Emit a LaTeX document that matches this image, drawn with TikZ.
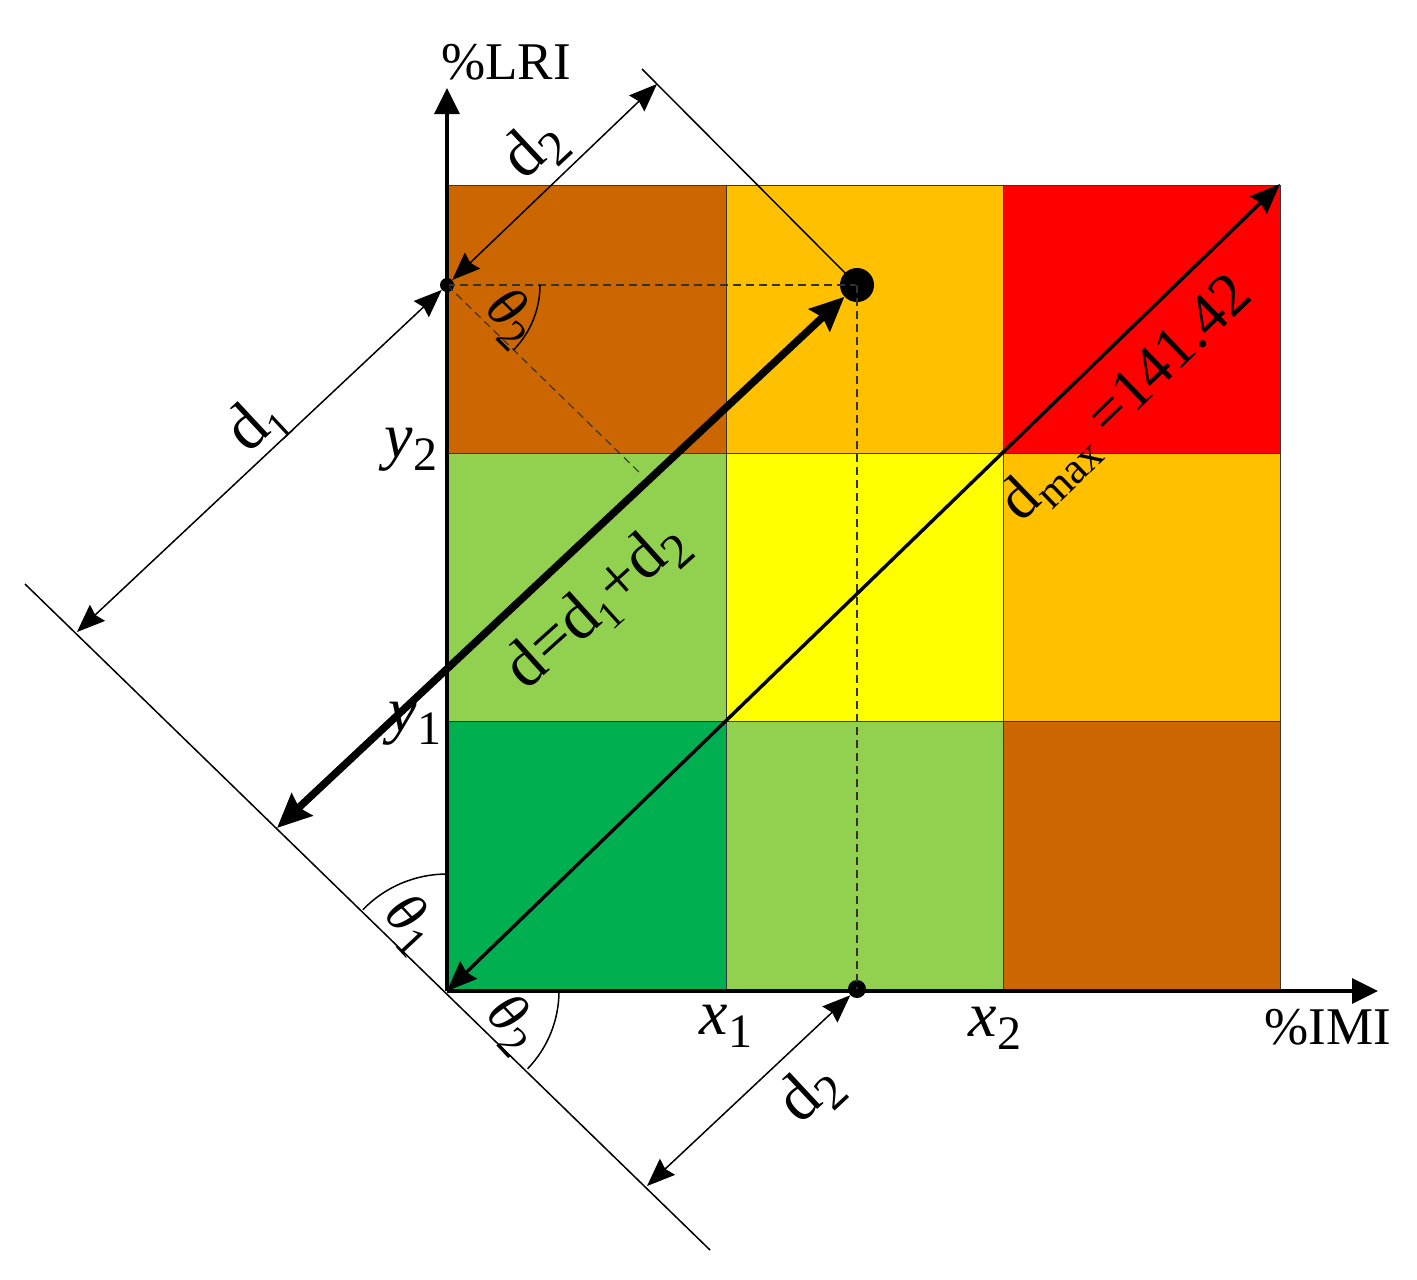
\documentclass[tikz,border=0pt]{standalone}
\usepackage{fontspec}
\setmainfont{Liberation Serif}
\usetikzlibrary{arrows.meta}
\definecolor{cbrown}{RGB}{204,102,0}
\definecolor{cgold}{RGB}{255,192,0}
\definecolor{cred}{RGB}{255,0,0}
\definecolor{clgreen}{RGB}{146,208,80}
\definecolor{cyellow}{RGB}{255,255,0}
\definecolor{cgreen}{RGB}{0,176,80}
\definecolor{cgrid}{RGB}{55,55,55}
\newcommand\lsub[2][0.75]{\raisebox{-0.2em}{\scalebox{#1}{#2}}}
\begin{document}
\begin{tikzpicture}[x=1pt,y=-1pt,
  cell/.style={draw=cgrid, line width=0.9pt},
  axisline/.style={line width=3.2pt, -{Triangle[length=26pt,width=25pt]}},
  dimline/.style={line width=1.5pt, {Stealth[length=28pt,width=22pt,inset=3pt]}-{Stealth[length=28pt,width=22pt,inset=3pt]}},
  dmaxline/.style={line width=3.4pt, {Stealth[length=30pt,width=24pt,inset=3pt]}-{Stealth[length=30pt,width=24pt,inset=3pt]}},
  thickline/.style={line width=7.5pt, {Stealth[length=34pt,width=30pt,inset=4pt]}-{Stealth[length=34pt,width=30pt,inset=4pt]}},
  guide/.style={line width=1.5pt},
  dashline/.style={line width=1.1pt, dash pattern=on 8pt off 5pt, draw=black!80},
  dotnode/.style={circle, fill=black, inner sep=0pt},
  axisfont/.style={font=\fontsize{53}{58}\selectfont, inner sep=0pt},
  varfont/.style={font=\fontsize{64}{70}\selectfont, inner sep=0pt},
  dfont/.style={font=\fontsize{66}{72}\selectfont, inner sep=0pt},
  thfont/.style={font=\fontsize{58}{62}\selectfont, inner sep=0pt}
]
\useasboundingbox (0,0) rectangle (1417,1280);

% grid cells
\path[cell, fill=cbrown]  (447,185) rectangle (726,453);
\path[cell, fill=cgold]   (726,185) rectangle (1003,453);
\path[cell, fill=cred]    (1003,185) rectangle (1280,453);
\path[cell, fill=clgreen] (447,453) rectangle (726,721);
\path[cell, fill=cyellow] (726,453) rectangle (1003,721);
\path[cell, fill=cgold]   (1003,453) rectangle (1280,721);
\path[cell, fill=cgreen]  (447,721) rectangle (726,991);
\path[cell, fill=clgreen] (726,721) rectangle (1003,991);
\path[cell, fill=cbrown]  (1003,721) rectangle (1280,991);

% key points
\coordinate (O) at (447,991);
\coordinate (Ytip) at (447,88);
\coordinate (Xtip) at (1378,991);
\coordinate (Dmax) at (1280,184);
\coordinate (B1) at (25,584);
\coordinate (B2) at (710,1250);
\coordinate (Dfoot) at (277,828);
\coordinate (D1foot) at (77,632);
\coordinate (D2foot) at (647,1186);
\coordinate (E1) at (642,69);
\coordinate (D2top) at (657,84);
\coordinate (F) at (642,475);

\node[dotnode, minimum size=34pt] (P) at (857,285) {};
\node[dotnode, minimum size=14pt] (Py) at (447,285) {};
\node[dotnode, minimum size=18pt] (Px) at (857,989) {};

% dashed guides
\draw[dashline] (Py.center) -- (P.center);
\draw[dashline] (P.center) -- (Px.center);
\draw[dashline] (Py.center) -- (F);

% dmax diagonal
\draw[dmaxline] (O) -- (Dmax);

% axes
\draw[axisline] (O) -- (Ytip);
\draw[axisline] (O) -- (Xtip);

% baseline and extension line
\draw[guide] (B1) -- (B2);
\draw[guide] (E1) -- (P.center);

% dimension arrows
\draw[dimline] (D1foot) -- (Py);
\draw[dimline] (Py) -- (D2top);
\draw[dimline] (Px) -- (D2foot);

% thick d arrow
\draw[thickline] (Dfoot) -- (P);

% angle arcs
\draw[guide] (O) ++(0,-117) arc[start angle=-90, end angle=-136, radius=117];
\draw[guide] (O) ++(112,0) arc[start angle=0, end angle=44, radius=112];
\draw[guide] (Py) ++(93,0) arc[start angle=0, end angle=44, radius=93];

% labels
\node[axisfont] (lri) at (506,62) {\%LRI};
\node[axisfont] (imi) at (1328,1027) {\%IMI};
\node[varfont] (x1) at (726,1026) {\textit{x}\lsub{1}};
\node[varfont] (x2) at (995,1028) {\textit{x}\lsub{2}};
\node[varfont] (y2) at (411,450) {\textit{y}\lsub{2}};
\node[varfont] (y1) at (415,724) {\textit{y}\lsub{1}};
\node[dfont, rotate=43] (d2t) at (534,150) {d\lsub{2}};
\node[dfont, rotate=43] (d1l) at (257,425) {d\lsub[0.6]{1}};
\node[dfont, rotate=43] (d2b) at (810,1094) {d\lsub{2}};
\node[dfont, rotate=42] (dsum) at (597,606) {d=d\lsub[0.6]{1}+d\lsub{2}};
\node[dfont, font=\fontsize{61}{66}\selectfont, rotate=44] (dmx) at (1128,400) {d\lsub[0.72]{max} =141.42};
\node[thfont, rotate=-47] (t1) at (410,924) {\textit{θ}\lsub{1}};
\node[thfont, rotate=-47] (t2b) at (512,1024) {\textit{θ}\lsub{2}};
\node[thfont, rotate=-45] (t2t) at (511,318) {\textit{θ}\lsub{2}};
\end{tikzpicture}
\end{document}
